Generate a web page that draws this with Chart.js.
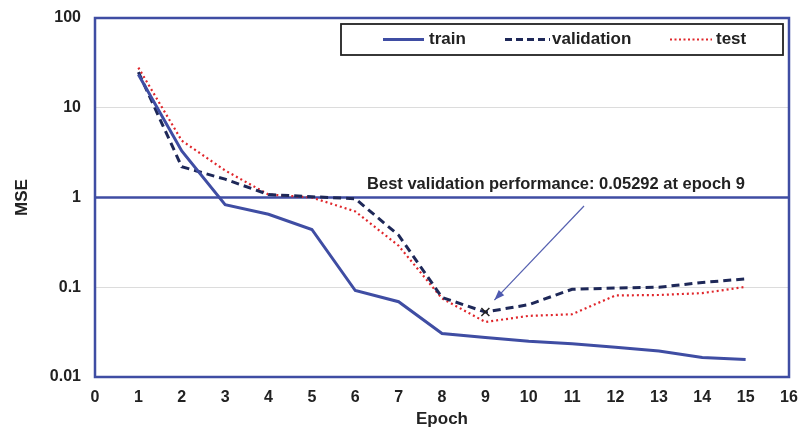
<!DOCTYPE html>
<html><head><meta charset="utf-8">
<script src="https://cdn.jsdelivr.net/npm/chart.js@4/dist/chart.umd.min.js"></script>
<style>html,body{margin:0;padding:0;background:#fff}#wrap{width:799px;height:430px}</style>
</head><body><div id="wrap"><canvas id="c" width="799" height="430"></canvas></div>
<script>
const epochs = [1,2,3,4,5,6,7,8,9,10,11,12,13,14,15];
const train = [23.5,3.3,0.83,0.65,0.44,0.092,0.069,0.0305,0.0275,0.025,0.0235,0.0215,0.0195,0.0165,0.0157];
const validation = [25,2.2,1.6,1.08,1.02,0.97,0.38,0.077,0.05292,0.064,0.095,0.098,0.1,0.113,0.124];
const test = [28,4.3,2.0,1.08,1.0,0.70,0.29,0.075,0.041,0.048,0.05,0.081,0.082,0.086,0.101];
const yTicks = [0.01,0.1,1,10,100];
const bestEpoch = 9, bestValue = 0.05292;
const annotationText = "Best validation performance: 0.05292 at epoch 9";
const legendLabels = ["train","validation","test"];

const BLUE = '#3F4DA3', NAVY = '#1E2858', RED = '#E0262B';
const FONT = '"Liberation Sans", Arial, sans-serif';

const pts = arr => epochs.map((e,i)=>({x:e,y:arr[i]}));

const extras = {
  id:'extras',
  beforeDatasetsDraw(chart){
    const {ctx, chartArea:a, scales:{x,y}} = chart;
    ctx.save();
    const y1 = y.getPixelForValue(1);
    ctx.strokeStyle = BLUE; ctx.lineWidth = 2.5;
    ctx.beginPath(); ctx.moveTo(a.left,y1); ctx.lineTo(a.right,y1); ctx.stroke();
    ctx.restore();
  },
  afterDatasetsDraw(chart){
    const {ctx, chartArea:a, scales:{x,y}} = chart;
    ctx.save();
    const bx = x.getPixelForValue(bestEpoch), by = y.getPixelForValue(bestValue);
    ctx.strokeStyle = '#222'; ctx.lineWidth = 1.5;
    ctx.beginPath(); ctx.moveTo(bx-4,by-4); ctx.lineTo(bx+4,by+4); ctx.moveTo(bx+4,by-4); ctx.lineTo(bx-4,by+4); ctx.stroke();
    ctx.fillStyle = '#222'; ctx.font = 'bold 16.5px '+FONT; ctx.textAlign='center'; ctx.textBaseline='middle';
    ctx.fillText(annotationText, 556, 184);
    const sx = 584, sy = 206, ex = bx+9, ey = by-12;
    ctx.strokeStyle = '#5560B0'; ctx.lineWidth = 1.2;
    ctx.beginPath(); ctx.moveTo(sx,sy); ctx.lineTo(ex,ey); ctx.stroke();
    const ang = Math.atan2(ey-sy, ex-sx);
    ctx.fillStyle = '#4F5AB0';
    ctx.beginPath(); ctx.moveTo(ex,ey);
    ctx.lineTo(ex-11*Math.cos(ang-0.35), ey-11*Math.sin(ang-0.35));
    ctx.lineTo(ex-11*Math.cos(ang+0.35), ey-11*Math.sin(ang+0.35));
    ctx.closePath(); ctx.fill();
    const lx = 341, ly = 24, lw = 442, lh = 31;
    ctx.fillStyle='#fff'; ctx.fillRect(lx,ly,lw,lh);
    ctx.strokeStyle='#222'; ctx.lineWidth=1.8; ctx.strokeRect(lx,ly,lw,lh);
    const my = ly+lh/2;
    const items = [
      {x0:383,x1:424,c:BLUE,w:3,d:[],t:429},
      {x0:505,x1:550,c:NAVY,w:3,d:[7,4],t:552},
      {x0:670,x1:712,c:RED,w:2,d:[2,2.5],t:716}
    ];
    items.forEach((it,i)=>{
      ctx.strokeStyle=it.c; ctx.lineWidth=it.w; ctx.setLineDash(it.d);
      ctx.beginPath(); ctx.moveTo(it.x0,my); ctx.lineTo(it.x1,my); ctx.stroke();
      ctx.setLineDash([]);
      ctx.fillStyle='#222'; ctx.font='bold 17px '+FONT; ctx.textAlign='left'; ctx.textBaseline='middle';
      ctx.fillText(legendLabels[i], it.t, my);
    });
    ctx.strokeStyle = BLUE; ctx.lineWidth = 2.5;
    ctx.strokeRect(a.left, a.top, a.right-a.left, a.bottom-a.top);
    ctx.restore();
  }
};

new Chart(document.getElementById('c'), {
  type:'line',
  data:{datasets:[
    {label:'train', data:pts(train), borderColor:BLUE, borderWidth:3, pointRadius:0, tension:0},
    {label:'validation', data:pts(validation), borderColor:NAVY, borderWidth:3, borderDash:[8,5], pointRadius:0, tension:0},
    {label:'test', data:pts(test), borderColor:RED, borderWidth:2.2, borderDash:[2,3], pointRadius:0, tension:0}
  ]},
  options:{
    responsive:false, animation:false, devicePixelRatio:1,
    layout:{padding:{left:0,right:10,top:18,bottom:0}},
    plugins:{legend:{display:false}, tooltip:{enabled:false}},
    scales:{
      x:{type:'linear', min:0, max:16,
        ticks:{stepSize:1, color:'#222', font:{family:FONT, weight:'bold', size:16}, padding:11},
        grid:{display:false, drawTicks:false}, border:{display:false},
        title:{display:true, text:'Epoch', color:'#222', font:{family:FONT, weight:'bold', size:17}, padding:{top:2,bottom:0}},
        afterFit(s){s.height = 53; s.paddingLeft = 0; s.paddingRight = 0;}
      },
      y:{type:'logarithmic', min:0.01, max:100,
        afterBuildTicks(s){ s.ticks = yTicks.map(v=>({value:v})); },
        ticks:{color:'#222', font:{family:FONT, weight:'bold', size:16}, padding:14,
          callback:(v)=> String(v)},
        grid:{color:'#dcdcdc', lineWidth:1, drawTicks:false}, border:{display:false},
        title:{display:true, text:'MSE', color:'#222', font:{family:FONT, weight:'bold', size:17}, padding:{top:12,bottom:8}},
        afterFit(s){s.width = 95; s.paddingTop = 0; s.paddingBottom = 0;}
      }
    }
  },
  plugins:[extras]
});
</script></body></html>
